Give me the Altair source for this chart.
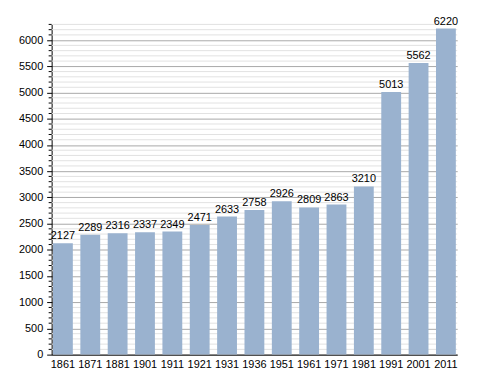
import altair as alt
import pandas as pd

years = ["1861", "1871", "1881", "1901", "1911", "1921", "1931", "1936",
         "1951", "1961", "1971", "1981", "1991", "2001", "2011"]
population = [2127, 2289, 2316, 2337, 2349, 2471, 2633, 2758,
              2926, 2809, 2863, 3210, 5013, 5562, 6220]
major_ticks = list(range(0, 6001, 500))
minor_ticks = [v for v in range(0, 6301, 100) if v % 500 != 0]

df = pd.DataFrame({"year": years, "pop": population})
minor_df = pd.DataFrame({"v": minor_ticks})

yscale = alt.Scale(domain=[0, 6300], nice=False)
font = "Liberation Sans"
yaxis = alt.Axis(values=major_ticks, format="d", grid=True, gridColor="#a8a8a8",
                 domainColor="#000000", tickColor="#000000", tickSize=5,
                 labelColor="#000000", labelFont=font, labelFontSize=11,
                 labelPadding=4, title=None)

minor_grid = alt.Chart(minor_df).mark_rule(color="#e2e2e2", strokeWidth=1).encode(
    y=alt.Y("v:Q", scale=yscale, axis=yaxis, title=None)
)
minor_tick = alt.Chart(minor_df).mark_rule(color="#000000", strokeWidth=1).encode(
    y=alt.Y("v:Q", scale=yscale, axis=yaxis, title=None),
    x=alt.value(-3), x2=alt.value(0)
)

bars = alt.Chart(df).mark_bar(color="#9ab2cf").encode(
    x=alt.X("year:N", sort=years, title=None,
            scale=alt.Scale(paddingInner=0.275, paddingOuter=0.05),
            axis=alt.Axis(labelAngle=0, ticks=False, domainColor="#000000",
                          labelColor="#000000", labelFont=font, labelFontSize=11,
                          labelPadding=4)),
    y=alt.Y("pop:Q", scale=yscale, axis=yaxis, title=None)
)
labels = alt.Chart(df).mark_text(dy=-7, font=font, fontSize=11, color="#000000").encode(
    x=alt.X("year:N", sort=years),
    y=alt.Y("pop:Q", scale=yscale, axis=yaxis, title=None),
    text=alt.Text("pop:Q", format="d")
)

chart = alt.layer(minor_grid, bars, minor_tick, labels).properties(
    width=409, height=333, padding={"left": 10, "top": 6, "right": 22, "bottom": 5}
).configure_view(stroke=None)

chart.save("out.html", embed_options={"renderer": "svg", "actions": False})
